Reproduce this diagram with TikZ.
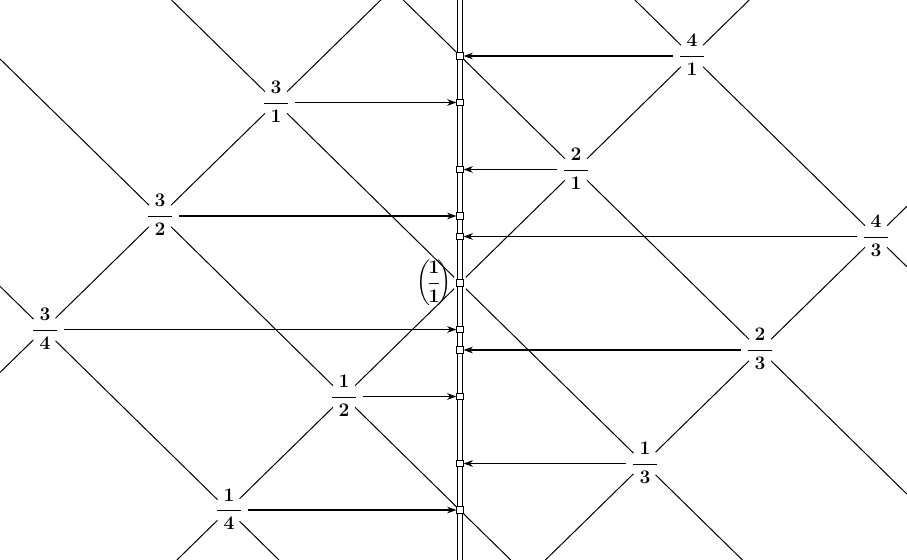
\documentclass[tikz,border=0pt]{standalone}
\usepackage{amsmath}
\usetikzlibrary{arrows.meta, positioning}

\begin{document}
\begin{tikzpicture}[x=0.75pt, y=-0.75pt,
    lattice/.style={line width=0.75pt},
    frac/.style={circle, fill=white, inner sep=0pt, minimum size=22.5pt,
                 text height=10pt, text depth=2pt, font=\fontsize{15}{18}\selectfont\boldmath},
    rail/.style={double, double distance=3.2pt, line width=0.85pt},
    sq/.style={draw, fill=white, line width=0.8pt, minimum size=4.6pt, inner sep=0pt},
    arr/.style={-{Stealth[length=7pt, width=5pt]}, line width=0.8pt, shorten <=2.5pt},
]
    \useasboundingbox (0,0) rectangle (907,560);
    \clip (0,0) rectangle (907,560);

    % Lattice lines, rising
    \draw[lattice] (380.8,0) -- (0,372.5);
    \draw[lattice] (749.2,0) -- (176.9,560);
    \draw[lattice] (907,206.2) -- (545.4,560);
    % Lattice lines, falling
    \draw[lattice] (0,286.3) -- (279,560);
    \draw[lattice] (0,59) -- (510.7,560);
    \draw[lattice] (171.5,0) -- (742.4,560);
    \draw[lattice] (403.2,0) -- (907,494.2);
    \draw[lattice] (634.9,0) -- (907,266.9);

    % Fractions, left side
    \node[frac] (f31) at (276,102.5) {$\dfrac{\;3\;}{\;1\;}$};
    \node[frac] (f32) at (160,216) {$\dfrac{\;3\;}{\;2\;}$};
    \node[frac] (f34) at (45,329.5) {$\dfrac{\;3\;}{\;4\;}$};
    \node[frac] (f12) at (344,396.5) {$\dfrac{\;1\;}{\;2\;}$};
    \node[frac] (f14) at (229,510) {$\dfrac{\;1\;}{\;4\;}$};
    % Fractions, right side
    \node[frac] (f41) at (692,56) {$\dfrac{\;4\;}{\;1\;}$};
    \node[frac] (f21) at (576,169.5) {$\dfrac{\;2\;}{\;1\;}$};
    \node[frac] (f43) at (876,236.5) {$\dfrac{\;4\;}{\;3\;}$};
    \node[frac] (f23) at (760,350) {$\dfrac{\;2\;}{\;3\;}$};
    \node[frac] (f13) at (645,463.5) {$\dfrac{\;1\;}{\;3\;}$};

    % Unity on the rail
    \node[circle, fill=white, minimum size=12pt, inner sep=0pt] (f11) at (460,283) {};
    \node[font=\fontsize{15}{18}\selectfont\boldmath, inner sep=0pt, left=0pt of f11] (l11)
        {$\left(\!\dfrac{1}{1}\!\right)$};

    % Rail
    \coordinate (railtop) at (460,0);
    \coordinate (railbot) at (460,560);
    \draw[rail] (railtop) -- (railbot);

    % Marks on the rail
    \node[sq] (m41) at (460,56) {};
    \node[sq] (m31) at (460,102.5) {};
    \node[sq] (m21) at (460,169.5) {};
    \node[sq] (m32) at (460,216) {};
    \node[sq] (m43) at (460,236.5) {};
    \node[sq] (m11) at (460,283) {};
    \node[sq] (m34) at (460,329.5) {};
    \node[sq] (m23) at (460,350) {};
    \node[sq] (m12) at (460,396.5) {};
    \node[sq] (m13) at (460,463.5) {};
    \node[sq] (m14) at (460,510) {};

    % Arrows
    \draw[arr] (f31.east) -- (m31.west);
    \draw[arr] (f32.east) -- (m32.west);
    \draw[arr] (f34.east) -- (m34.west);
    \draw[arr] (f12.east) -- (m12.west);
    \draw[arr] (f14.east) -- (m14.west);
    \draw[arr] (f41.west) -- (m41.east);
    \draw[arr] (f21.west) -- (m21.east);
    \draw[arr] (f43.west) -- (m43.east);
    \draw[arr] (f23.west) -- (m23.east);
    \draw[arr] (f13.west) -- (m13.east);
\end{tikzpicture}
\end{document}
